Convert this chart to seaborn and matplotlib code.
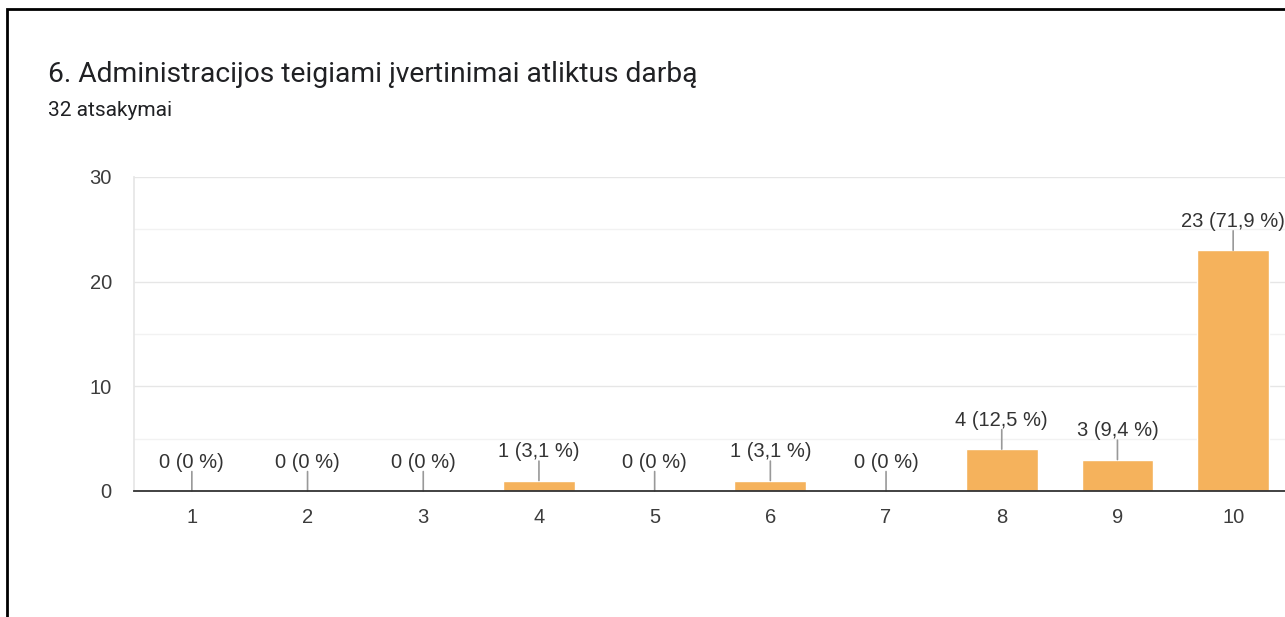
import numpy as np
import pandas as pd
import matplotlib
matplotlib.use("Agg")
import matplotlib.pyplot as plt
import seaborn as sns
from matplotlib.patches import Rectangle

# Data
ratings = ["1", "2", "3", "4", "5", "6", "7", "8", "9", "10"]
counts = [0, 0, 0, 1, 0, 1, 0, 4, 3, 23]
labels = ["0 (0 %)", "0 (0 %)", "0 (0 %)", "1 (3,1 %)", "0 (0 %)",
          "1 (3,1 %)", "0 (0 %)", "4 (12,5 %)", "3 (9,4 %)", "23 (71,9 %)"]
title = "6. Administracijos teigiami įvertinimai atliktus darbą"
subtitle = "32 atsakymai"

df = pd.DataFrame({"rating": ratings, "count": counts})

sns.set_theme(style="white")
plt.rcParams["font.family"] = ["Liberation Sans", "DejaVu Sans"]

fig = plt.figure(figsize=(12.85, 6.17), dpi=100)
ax = fig.add_axes([134 / 1285, (617 - 491) / 617, 1157 / 1285, 314 / 617])

sns.barplot(data=df, x="rating", y="count", color="#F5B25C", width=0.62,
            saturation=1, ax=ax, zorder=2)

ax.set_ylim(0, 30)
ax.set_xlim(-0.5, 9.5)
ax.set_yticks([0, 10, 20, 30])
ax.set_yticks([5, 15, 25], minor=True)
ax.grid(axis="y", which="major", color="#e6e6e6", lw=1, zorder=0)
ax.grid(axis="y", which="minor", color="#f2f2f2", lw=1, zorder=0)
ax.set_axisbelow(True)
ax.set_xlabel("")
ax.set_ylabel("")
ax.tick_params(axis="both", length=0, labelsize=14.5, colors="#3c3c3c")
ax.tick_params(axis="x", pad=12)
ax.tick_params(axis="y", pad=16)

for s in ["top", "right"]:
    ax.spines[s].set_visible(False)
ax.spines["left"].set_color("#e6e6e6")
ax.spines["bottom"].set_color("#333333")
ax.spines["bottom"].set_linewidth(1.3)
ax.spines["bottom"].set_zorder(3)

# value labels with short leader lines
for i, (c, lab) in enumerate(zip(counts, labels)):
    ax.annotate("", xy=(i, c), xytext=(0, 14), textcoords="offset points",
                arrowprops=dict(arrowstyle="-", color="#999999", lw=1.2,
                                shrinkA=0, shrinkB=0))
    ax.annotate(lab, xy=(i, c), xytext=(0, 14), textcoords="offset points",
                ha="center", va="bottom", fontsize=14.5, color="#333333")

fig.text(48 / 1285, 1 - 75 / 617, title, fontsize=20.3, color="#202124",
         va="center", ha="left", family=["Roboto", "DejaVu Sans"])
fig.text(48 / 1285, 1 - 110 / 617, subtitle, fontsize=15, color="#202124",
         va="center", ha="left", family=["Roboto", "DejaVu Sans"])

# outer frame
fig.patches.append(Rectangle((7 / 1285, -0.1), 1.2, 1 - 9 / 617 + 0.1,
                             transform=fig.transFigure, fill=False,
                             edgecolor="black", lw=2))

fig.savefig("out.png", dpi=100)
